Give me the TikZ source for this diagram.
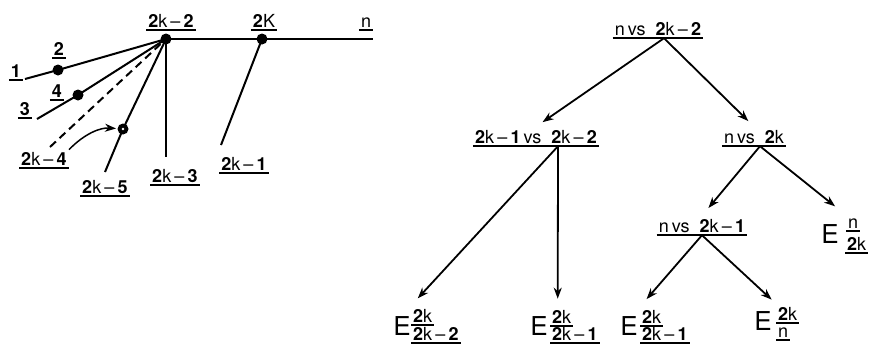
\documentclass[tikz,border=0pt]{standalone}
\usepackage{fontspec}
\setmainfont{TeX Gyre Heros}
\usetikzlibrary{arrows.meta}
\newcommand{\nb}[1]{\textbf{#1}}
\newcommand{\dsh}{\hspace{0.18em}--\hspace{0.18em}}
\begin{document}
\begin{tikzpicture}[x=1pt, y=-1pt, >={Stealth[length=11pt, width=8pt, inset=3.5pt]},
    lab/.style={anchor=base, inner xsep=2pt, inner ysep=3pt, text depth=0pt,
                font=\fontsize{18}{20}\selectfont},
    num/.style={lab, anchor=base west},
    ee/.style={anchor=base, inner sep=0pt, font=\fontsize{26}{28}\selectfont},
    arm/.style={line width=2pt},
    ul/.style={line width=2pt},
    dot/.style={circle, fill, inner sep=0pt, minimum size=11pt},
    ar/.style={->, line width=1.8pt}]
    \useasboundingbox (0,0) rectangle (875,351);

    % left: the chain of comparisons
    \coordinate (hub) at (166,39);
    \coordinate (k2) at (262,39);
    \coordinate (nend) at (373,39);
    \coordinate (c2) at (58,70);
    \coordinate (c4) at (78,95);
    \coordinate (c5) at (123,129);
    \coordinate (p1) at (25,79);
    \coordinate (p3) at (37,119);
    \coordinate (p4) at (50,147);
    \coordinate (p5) at (105,172);
    \coordinate (p2k3) at (166,157);
    \coordinate (p2k1) at (221,145);

    \draw[arm] (hub) -- (nend);
    \draw[arm] (p1) -- (c2) -- (hub);
    \draw[arm] (p3) -- (c4) -- (hub);
    \draw[arm, dash pattern=on 8pt off 5pt] (p4) -- (hub);
    \draw[arm] (p5) -- (c5) -- (hub);
    \draw[arm] (hub) -- (p2k3);
    \draw[arm] (k2) -- (p2k1);

    \node[dot] (Dhub) at (hub) {};
    \node[dot] (Dk2) at (k2) {};
    \node[dot] (D2) at (c2) {};
    \node[dot] (D4) at (c4) {};
    \node[dot] (D5) at (c5) {};
    \fill[white] (D5.center) circle (1.3pt);

    \node[lab] (L2k2) at (171,27) {\nb{2}k\dsh\nb{2}};
    \node[lab] (L2K) at (264,27) {\nb{2}K};
    \node[lab] (Ln) at (366,27) {n};
    \node[lab] (L1) at (16,77) {\nb{1}};
    \node[lab] (L2) at (59,55) {\nb{2}};
    \node[lab] (L4) at (57,97) {\nb{4}};
    \node[lab] (L3) at (25,115) {\nb{3}};
    \node[lab] (L2k4) at (44,165) {\nb{2}k\dsh\nb{4}};
    \node[lab] (L2k5) at (105,193) {\nb{2}k\dsh\nb{5}};
    \node[lab] (L2k3) at (175,182) {\nb{2}k\dsh\nb{3}};
    \node[lab] (L2k1) at (244,170) {\nb{2}k\dsh\nb{1}};

    \draw[ar, line width=1.5pt, shorten >=7pt] ([yshift=-1pt]L2k4.north east) to[bend left=25] (D5.center);

    % right: the decision tree
    \node[lab] (Tr) at (658,35) {n\,vs\ \ \nb{2}k\dsh\nb{2}};
    \node[lab] (Tl) at (536,143) {\nb{2}k\dsh\nb{1}\,vs\ \ \nb{2}k\dsh\nb{2}};
    \node[lab] (Tm) at (754,143) {n\,vs\ \ \nb{2}k};
    \node[lab] (Tn) at (702,232) {n\,vs\ \ \nb{2}k\dsh\nb{1}};

    \node[ee] (E1) at (402,335) {E};
    \node[num] (E1n) at (411,322) {\nb{2}k};
    \node[num] (E1d) at (411,340) {\nb{2}k\dsh\nb{2}};
    \node[ee] (E2) at (539,335) {E};
    \node[num] (E2n) at (550,323) {\nb{2}k};
    \node[num] (E2d) at (550,340) {\nb{2}k\dsh\nb{1}};
    \node[ee] (E3) at (629,335) {E};
    \node[num] (E3n) at (640,323) {\nb{2}k};
    \node[num] (E3d) at (640,340) {\nb{2}k\dsh\nb{1}};
    \node[ee] (E4) at (830,243) {E};
    \node[num] (E4n) at (846,228) {n};
    \node[num] (E4d) at (845,250) {\nb{2}k};
    \node[ee] (E5) at (763,330) {E};
    \node[num] (E5n) at (776,320) {\nb{2}k};
    \node[num] (E5d) at (776,337) {n};

    \foreach \n in {L2k2,L2K,Ln,L1,L2,L4,L3,L2k4,L2k5,L2k3,L2k1,
                    Tr,Tl,Tm,Tn,E1n,E1d,E2n,E2d,E3n,E3d,E4n,E4d,E5n,E5d}
        \draw[ul] (\n.south west) -- (\n.south east);

    \draw[ar, shorten >=8pt] ([xshift=6pt]Tr.south) -- (Tl.north);
    \draw[ar, shorten >=8pt] ([xshift=6pt]Tr.south) -- (Tm.north);
    \draw[ar, shorten >=10pt] ([xshift=22pt]Tl.south) -- (E1n.north west);
    \draw[ar, shorten >=8pt] ([xshift=22pt]Tl.south) -- ([xshift=-4pt]E2n.north);
    \draw[ar, shorten >=10pt] ([xshift=6pt]Tm.south) -- (Tn.north);
    \draw[ar, shorten >=14pt] ([xshift=6pt]Tm.south) -- (E4n.north west);
    \draw[ar, shorten >=10pt] (Tn.south) -- (E3n.north west);
    \draw[ar, shorten >=6pt] (Tn.south) -- (E5n.north west);
\end{tikzpicture}
\end{document}
